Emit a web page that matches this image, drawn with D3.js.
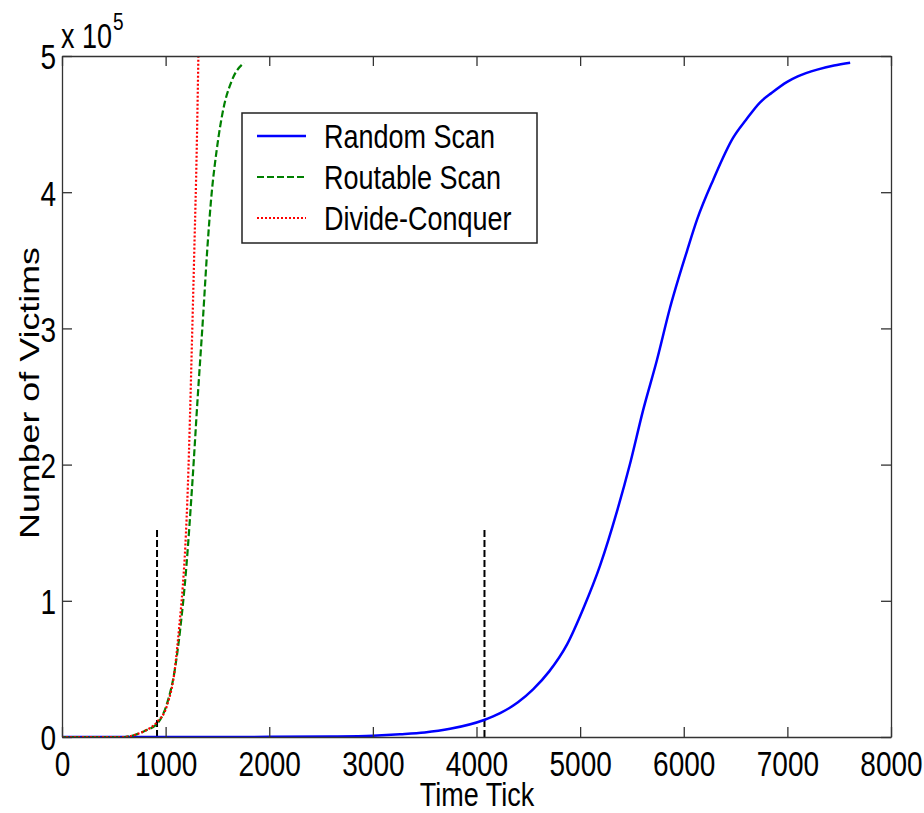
<!DOCTYPE html>
<html>
<head>
<meta charset="utf-8">
<script src="https://cdn.jsdelivr.net/npm/d3@7"></script>
<style>
  body { margin: 0; background: #fff; }
  text { font-family: "Liberation Sans", Arial, sans-serif; fill: #000; }
</style>
</head>
<body>
<svg width="924" height="813"></svg>
<script>
const xTicks = [0, 1000, 2000, 3000, 4000, 5000, 6000, 7000, 8000];
const yTicks = [0, 100000, 200000, 300000, 400000, 500000];
const yTickLabels = ["0", "1", "2", "3", "4", "5"];

// [time tick, victims]
const randomScan = [
  [0, 0], [1000, 0], [2000, 100], [2600, 400], [3000, 1000], [3263, 2000],
  [3500, 3300], [3745, 6000], [4073, 12500], [4228, 17500], [4400, 25500],
  [4546, 35000], [4700, 48000], [4874, 68000], [5029, 94000], [5193, 126000],
  [5357, 166000], [5483, 201000], [5608, 240000], [5742, 277000], [5867, 315000],
  [6032, 357000], [6129, 380000], [6284, 409000], [6477, 440000], [6600, 453000],
  [6737, 466000], [6850, 473000], [6998, 481000], [7100, 485000], [7288, 490000],
  [7450, 493000], [7606, 495000]
];
const routableScan = [
  [0, 0], [600, 0], [700, 1500], [800, 4500], [931, 11000], [1007, 23000],
  [1090, 50000], [1139, 78000], [1200, 125000], [1260, 189000], [1310, 250000],
  [1361, 308000], [1402, 358000], [1438, 394000], [1493, 431000], [1554, 460000],
  [1639, 482000], [1757, 495000]
];
const divideConquer = [
  [0, 0], [600, 0], [700, 1500], [800, 4500], [917, 11000], [1013, 23000],
  [1091, 51000], [1130, 80000], [1165, 110000], [1190, 140000], [1215, 185000],
  [1235, 235000], [1252, 284000], [1277, 358000], [1300, 431000], [1316, 500000],
  [1322, 530000]
];
const markerTimes = [917, 4077];
const markerHeight = 154000;

const seriesNames = ["Random Scan", "Routable Scan", "Divide-Conquer"];
const seriesColors = ["#0000ff", "#008000", "#ff0000"];
const seriesDash = [null, "7,3", "2,2"];
const seriesWidth = [2.5, 2.2, 2.2];
const seriesData = [randomScan, routableScan, divideConquer];

const svg = d3.select("svg");
const plotLeft = 62, plotRight = 891, plotTop = 56, plotBottom = 737;
const stretch = 1.28;
const fontSize = 28;

const x = d3.scaleLinear().domain([0, 8000]).range([plotLeft, plotRight]);
const y = d3.scaleLinear().domain([0, 500000]).range([plotBottom, plotTop]);

svg.append("rect").attr("width", 924).attr("height", 813).attr("fill", "#fff");

svg.append("clipPath").attr("id", "plot")
  .append("rect").attr("x", plotLeft).attr("y", plotTop)
  .attr("width", plotRight - plotLeft).attr("height", plotBottom - plotTop);

// marker lines
svg.selectAll(".marker").data(markerTimes).join("line")
  .attr("x1", d => x(d)).attr("x2", d => x(d))
  .attr("y1", y(0)).attr("y2", y(markerHeight))
  .attr("stroke", "#000").attr("stroke-width", 2)
  .attr("stroke-dasharray", "7,3");

const line = d3.line()
  .x(d => x(d[0]))
  .y(d => y(d[1]))
  .curve(d3.curveMonotoneX);

const g = svg.append("g").attr("clip-path", "url(#plot)");
seriesData.forEach((s, i) => {
  g.append("path")
    .datum(s)
    .attr("fill", "none")
    .attr("stroke", seriesColors[i])
    .attr("stroke-width", seriesWidth[i])
    .attr("stroke-dasharray", seriesDash[i])
    .attr("d", line);
});

// Axes (matlab style box, inward ticks)
function styleAxis(sel) {
  sel.select(".domain").attr("stroke", "#333").attr("stroke-width", 1.3);
  sel.selectAll(".tick line").attr("stroke", "#333").attr("stroke-width", 1.3);
}

svg.append("g")
  .attr("transform", `translate(0,${plotBottom})`)
  .call(d3.axisBottom(x).tickValues(xTicks).tickSize(-10).tickSizeOuter(0).tickFormat(d3.format("d")))
  .call(styleAxis)
  .call(a => a.selectAll(".tick text")
    .attr("y", 0).attr("dy", null)
    .attr("transform", `translate(0,39) scale(1,${stretch})`)
    .attr("font-size", fontSize).attr("fill", "#000"));

svg.append("g")
  .attr("transform", `translate(0,${plotTop})`)
  .call(d3.axisTop(x).tickValues(xTicks).tickSize(-10).tickSizeOuter(0).tickFormat(""))
  .call(styleAxis);

svg.append("g")
  .attr("transform", `translate(${plotLeft},0)`)
  .call(d3.axisLeft(y).tickValues(yTicks).tickSize(-10).tickSizeOuter(0).tickFormat((d, i) => yTickLabels[i]))
  .call(styleAxis)
  .call(a => a.selectAll(".tick text")
    .attr("x", 0).attr("dy", "0.36em")
    .attr("transform", `translate(-6,0) scale(1,${stretch})`)
    .attr("font-size", fontSize).attr("fill", "#000"));

svg.append("g")
  .attr("transform", `translate(${plotRight},0)`)
  .call(d3.axisRight(y).tickValues(yTicks).tickSize(-10).tickSizeOuter(0).tickFormat(""))
  .call(styleAxis);

// exponent label
const expo = svg.append("text")
  .attr("transform", `translate(61,48) scale(1,${stretch})`)
  .attr("font-size", 27);
expo.append("tspan").text("x 10");
expo.append("tspan").attr("font-size", 19).attr("dx", 1).attr("dy", -14).text("5");

// axis titles
svg.append("text")
  .attr("transform", `translate(477,806) scale(1,1.24)`)
  .attr("text-anchor", "middle").attr("font-size", 27)
  .text("Time Tick");

svg.append("text")
  .attr("transform", `translate(39,393) rotate(-90) scale(${stretch},1)`)
  .attr("text-anchor", "middle").attr("font-size", fontSize)
  .text("Number of Victims");

// legend
const legend = svg.append("g");
legend.append("rect")
  .attr("x", 242).attr("y", 113).attr("width", 295).attr("height", 130)
  .attr("fill", "#fff").attr("stroke", "#222").attr("stroke-width", 1.5);
const rowsY = [136, 177, 218];
seriesNames.forEach((name, i) => {
  legend.append("line")
    .attr("x1", 257).attr("x2", 306).attr("y1", rowsY[i]).attr("y2", rowsY[i])
    .attr("stroke", seriesColors[i]).attr("stroke-width", seriesWidth[i])
    .attr("stroke-dasharray", seriesDash[i]);
  legend.append("text")
    .attr("transform", `translate(324,${rowsY[i] + 12}) scale(1,1.26)`)
    .attr("font-size", 27)
    .text(name);
});
</script>
</body>
</html>
